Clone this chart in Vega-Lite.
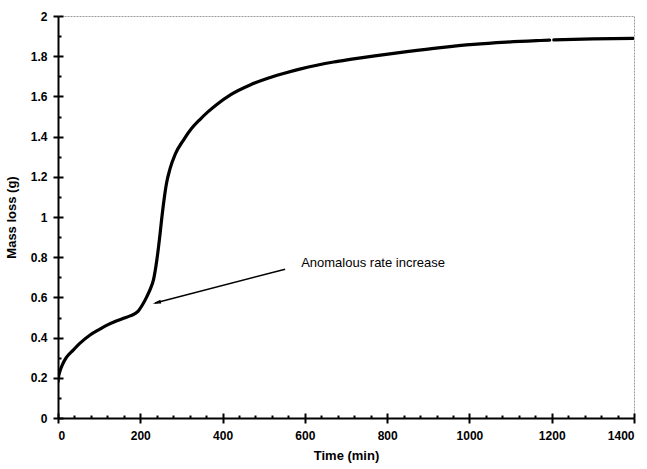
{
  "$schema": "https://vega.github.io/schema/vega-lite/v6.json",
  "width": 576,
  "height": 402,
  "autosize": {"type": "none"},
  "padding": {"left": 58, "top": 16, "right": 13, "bottom": 51},
  "background": "white",
  "config": {
    "view": {"stroke": "#9a9a9a", "strokeWidth": 1, "strokeDash": [2, 1]},
    "font": "Liberation Sans"
  },
  "datasets": {
    "curve": [
      {"t": 0, "m": 0.18, "run": "a"},
      {"t": 1, "m": 0.2, "run": "a"},
      {"t": 5, "m": 0.235, "run": "a"},
      {"t": 10, "m": 0.262, "run": "a"},
      {"t": 20, "m": 0.3, "run": "a"},
      {"t": 37, "m": 0.338, "run": "a"},
      {"t": 55, "m": 0.375, "run": "a"},
      {"t": 78, "m": 0.413, "run": "a"},
      {"t": 100, "m": 0.44, "run": "a"},
      {"t": 118, "m": 0.461, "run": "a"},
      {"t": 140, "m": 0.481, "run": "a"},
      {"t": 159, "m": 0.496, "run": "a"},
      {"t": 175, "m": 0.508, "run": "a"},
      {"t": 187, "m": 0.519, "run": "a"},
      {"t": 195, "m": 0.532, "run": "a"},
      {"t": 205, "m": 0.562, "run": "a"},
      {"t": 216, "m": 0.604, "run": "a"},
      {"t": 225, "m": 0.645, "run": "a"},
      {"t": 232, "m": 0.687, "run": "a"},
      {"t": 238, "m": 0.755, "run": "a"},
      {"t": 244, "m": 0.845, "run": "a"},
      {"t": 248, "m": 0.915, "run": "a"},
      {"t": 252, "m": 0.99, "run": "a"},
      {"t": 258, "m": 1.09, "run": "a"},
      {"t": 264, "m": 1.17, "run": "a"},
      {"t": 272, "m": 1.238, "run": "a"},
      {"t": 285, "m": 1.313, "run": "a"},
      {"t": 305, "m": 1.383, "run": "a"},
      {"t": 325, "m": 1.441, "run": "a"},
      {"t": 345, "m": 1.485, "run": "a"},
      {"t": 365, "m": 1.524, "run": "a"},
      {"t": 386, "m": 1.56, "run": "a"},
      {"t": 420, "m": 1.609, "run": "a"},
      {"t": 467, "m": 1.657, "run": "a"},
      {"t": 510, "m": 1.69, "run": "a"},
      {"t": 548, "m": 1.714, "run": "a"},
      {"t": 590, "m": 1.737, "run": "a"},
      {"t": 629, "m": 1.755, "run": "a"},
      {"t": 670, "m": 1.771, "run": "a"},
      {"t": 710, "m": 1.784, "run": "a"},
      {"t": 770, "m": 1.802, "run": "a"},
      {"t": 848, "m": 1.823, "run": "a"},
      {"t": 930, "m": 1.843, "run": "a"},
      {"t": 1010, "m": 1.859, "run": "a"},
      {"t": 1090, "m": 1.87, "run": "a"},
      {"t": 1172, "m": 1.878, "run": "a"},
      {"t": 1195, "m": 1.88, "run": "a"},
      {"t": 1205, "m": 1.881, "run": "b"},
      {"t": 1300, "m": 1.886, "run": "b"},
      {"t": 1398, "m": 1.889, "run": "b"}
    ],
    "note": [
      {"label": "Anomalous rate increase", "tx": 591, "ty": 0.771, "x1": 552, "y1": 0.74, "x2": 236, "y2": 0.572, "hx": 240, "hy": 0.574}
    ]
  },
  "layer": [
    {
      "data": {"name": "curve"},
      "mark": {"type": "line", "color": "black", "strokeWidth": 3.2, "strokeCap": "round", "strokeJoin": "round", "interpolate": "monotone", "clip": true},
      "encoding": {
        "x": {
          "field": "t", "type": "quantitative",
          "scale": {"domain": [0, 1400], "nice": false, "zero": false},
          "axis": {
            "orient": "bottom",
            "values": [0, 200, 400, 600, 800, 1000, 1200, 1400],
            "format": "d",
            "grid": false,
            "domainColor": "black", "domainWidth": 2,
            "tickColor": "black", "tickWidth": 2, "tickSize": 5,
            "labelFont": "Liberation Sans", "labelFontWeight": "bold", "labelFontSize": 12, "labelColor": "black", "labelPadding": 7,
            "title": "Time (min)",
            "titleFont": "Liberation Sans", "titleFontWeight": "bold", "titleFontSize": 13, "titleColor": "black", "titlePadding": 8
          }
        },
        "y": {
          "field": "m", "type": "quantitative",
          "scale": {"domain": [0, 2], "nice": false},
          "axis": {
            "orient": "left",
            "values": [0, 0.2, 0.4, 0.6, 0.8, 1, 1.2, 1.4, 1.6, 1.8, 2],
            "format": "~g",
            "grid": false,
            "domainColor": "black", "domainWidth": 2,
            "tickColor": "black", "tickWidth": 2, "tickSize": 5,
            "labelFont": "Liberation Sans", "labelFontWeight": "bold", "labelFontSize": 12, "labelColor": "black", "labelPadding": 6,
            "title": "Mass loss (g)",
            "titleFont": "Liberation Sans", "titleFontWeight": "bold", "titleFontSize": 13, "titleColor": "black", "titlePadding": 12
          }
        },
        "detail": {"field": "run", "type": "nominal"}
      }
    },
    {
      "data": {"name": "note"},
      "mark": {"type": "rule", "color": "black", "strokeWidth": 1.5},
      "encoding": {
        "x": {
          "field": "x1", "type": "quantitative",
          "scale": {"domain": [0, 1400], "nice": false, "zero": false},
          "axis": {
            "orient": "top",
            "offset": -402,
            "values": [0, 40, 80, 120, 160, 200, 240, 280, 320, 360, 400, 440, 480, 520, 560, 600, 640, 680, 720, 760, 800, 840, 880, 920, 960, 1000, 1040, 1080, 1120, 1160, 1200, 1240, 1280, 1320, 1360, 1400],
            "labels": false, "domain": false, "grid": false, "title": null,
            "tickColor": "black", "tickWidth": 2,
            "tickSize": {"condition": {"test": "datum.value % 200 === 0", "value": 5}, "value": 3}
          }
        },
        "x2": {"field": "x2"},
        "y": {
          "field": "y1", "type": "quantitative",
          "scale": {"domain": [0, 2], "nice": false},
          "axis": {
            "orient": "right",
            "offset": -576,
            "values": [0, 0.1, 0.2, 0.3, 0.4, 0.5, 0.6, 0.7, 0.8, 0.9, 1, 1.1, 1.2, 1.3, 1.4, 1.5, 1.6, 1.7, 1.8, 1.9, 2],
            "labels": false, "domain": false, "grid": false, "title": null,
            "tickColor": "black", "tickWidth": 2,
            "tickSize": {"condition": {"test": "round(datum.value * 10) % 2 === 0", "value": 5}, "value": 3}
          }
        },
        "y2": {"field": "y2"}
      }
    },
    {
      "data": {"name": "note"},
      "mark": {"type": "point", "shape": "M0,-1L0.45,1L-0.45,1Z", "filled": true, "color": "black", "opacity": 1, "size": 70, "angle": 255.5},
      "encoding": {
        "x": {"field": "hx", "type": "quantitative", "axis": null},
        "y": {"field": "hy", "type": "quantitative", "axis": null}
      }
    },
    {
      "data": {"name": "note"},
      "mark": {"type": "text", "align": "left", "baseline": "middle", "font": "Liberation Sans", "fontSize": 13, "color": "black"},
      "encoding": {
        "x": {"field": "tx", "type": "quantitative", "axis": null},
        "y": {"field": "ty", "type": "quantitative", "axis": null},
        "text": {"field": "label"}
      }
    }
  ],
  "resolve": {"axis": {"x": "independent", "y": "independent"}}
}
